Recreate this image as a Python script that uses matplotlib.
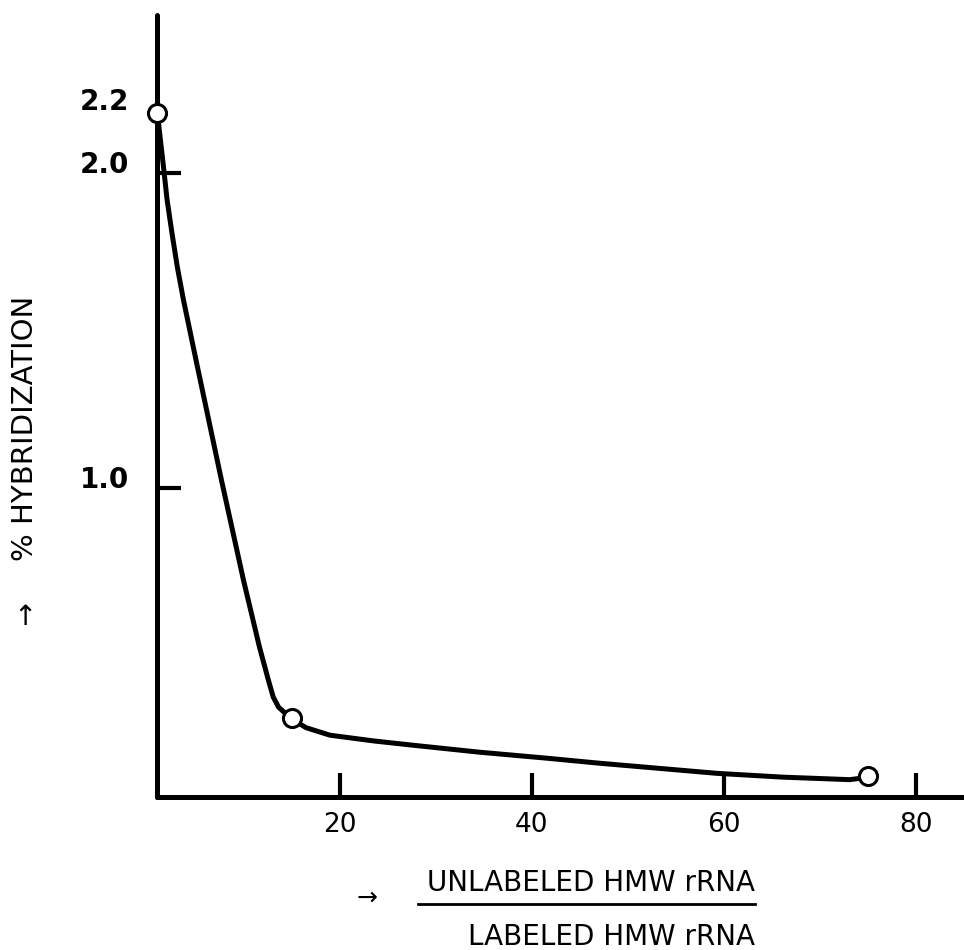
import matplotlib.pyplot as plt
from matplotlib.transforms import ScaledTranslation

# measured points (open circles)
pts_x = [1, 15, 75]
pts_y = [2.19, 0.27, 0.086]

# hand drawn curve
curve_x = [1.04, 1.35, 1.67, 2.05, 2.55, 3.12, 3.75, 5.21, 7.71, 10.0, 11.67, 12.6,
           13.1, 13.65, 14.9, 16.5, 19.0, 23.5, 27.7, 34.6, 41.6, 47.1, 59.3, 66.1,
           73.1, 74.4]
curve_y = [2.19, 2.105, 2.02, 1.914, 1.81, 1.70, 1.597, 1.384, 1.025, 0.708, 0.495, 0.39,
           0.337, 0.305, 0.27, 0.24, 0.216, 0.198, 0.184, 0.162, 0.143, 0.127, 0.095, 0.083,
           0.075, 0.08]

xticks = [20, 40, 60, 80]
yticks = [1.0, 2.0]
yticks_extra = [2.2]

W, H = 964, 950
fig = plt.figure(figsize=(W / 100, H / 100), dpi=100, facecolor='w')
ax = fig.add_axes([157 / W, 1 - 797 / H, (W - 157) / W, (797 - 15) / H])

ax.plot(curve_x, curve_y, '-', color='k', lw=3.6, solid_capstyle='round',
        solid_joinstyle='round', zorder=3)
ax.plot(pts_x, pts_y, 'o', ms=13, mfc='w', mec='k', mew=2.2, zorder=4,
        clip_on=False)

ax.set_xlim(1, 85)
ax.set_ylim(0.02, 2.5)

for s in ['top', 'right']:
    ax.spines[s].set_visible(False)
for s in ['left', 'bottom']:
    ax.spines[s].set_linewidth(3.6)
    ax.spines[s].set_capstyle('round')

ax.set_xticks(xticks)
ax.set_xticklabels([str(v) for v in xticks], fontsize=19)
ax.set_yticks(yticks)
ax.set_yticklabels(['1.0', '2.0'], fontsize=20, fontweight='bold')
ax.set_yticks(yticks_extra, minor=True)
ax.set_yticklabels(['2.2'], minor=True, fontsize=20, fontweight='bold')
ax.set_xticks([], minor=True)

ax.tick_params(axis='x', direction='in', length=17, width=3, pad=11)
ax.tick_params(axis='y', which='major', direction='in', length=17, width=3, pad=20)
ax.tick_params(axis='y', which='minor', length=0, pad=20)

shift = ScaledTranslation(0, 0.11, fig.dpi_scale_trans)
for lab in ax.get_yticklabels() + ax.get_yticklabels(minor=True):
    lab.set_transform(lab.get_transform() + shift)

# axis titles, placed by hand like the original
fig.text(25 / W, 1 - 428 / H, '% HYBRIDIZATION', rotation=90, fontsize=21,
         ha='center', va='center')
fig.text(25 / W, 1 - 617 / H, '\u2191', fontsize=20, ha='center', va='center')

fig.text(755 / W, 1 - 883 / H, 'UNLABELED HMW rRNA', fontsize=20,
         ha='right', va='center')
fig.add_artist(plt.Line2D([418 / W, 755 / W], [1 - 904 / H, 1 - 904 / H],
                          color='k', lw=2))
fig.text(755 / W, 1 - 937 / H, 'LABELED HMW rRNA', fontsize=20,
         ha='right', va='center')
fig.text(367 / W, 1 - 898 / H, '\u2192', fontsize=18, ha='center', va='center')

plt.savefig('out.png', dpi=100, facecolor='w')
